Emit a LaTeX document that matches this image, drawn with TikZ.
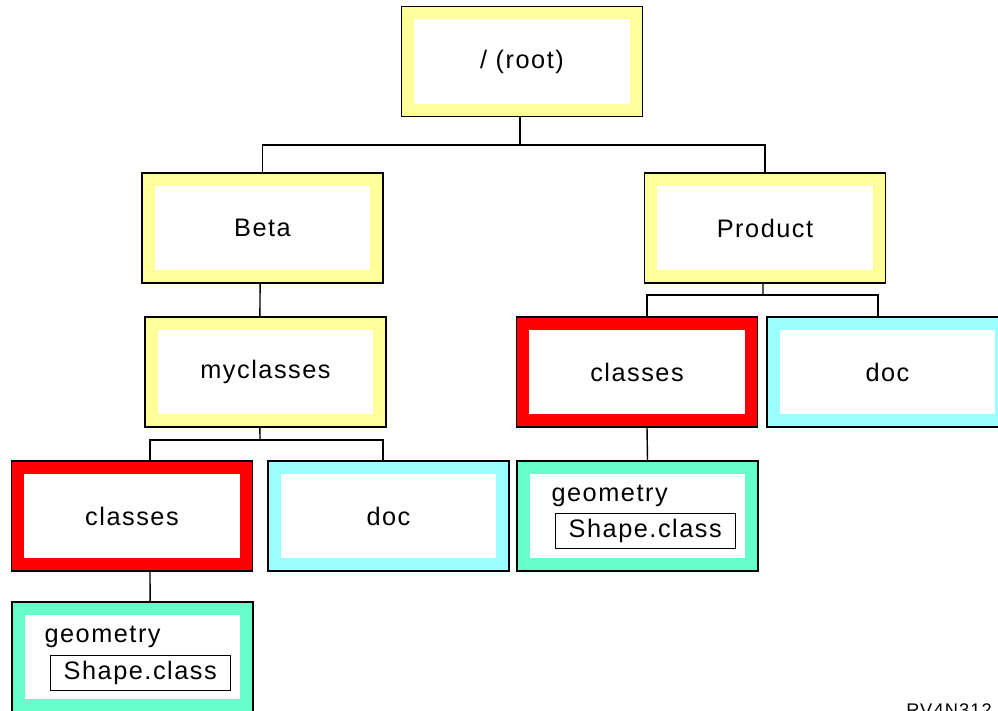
\documentclass[tikz,border=0pt]{standalone}
\usepackage{fontspec}
\setmainfont{Liberation Sans}[LetterSpace=6]
\usepackage{xcolor}
\usepackage{tikz}
\usetikzlibrary{positioning}

\definecolor{dirYellow}{HTML}{FFFF99}
\definecolor{dirRed}{HTML}{FF0000}
\definecolor{dirCyan}{HTML}{99FFFF}
\definecolor{dirMint}{HTML}{66FFCC}
\newcommand{\dirfont}{\fontsize{18}{20}\selectfont}

\begin{document}
\begin{tikzpicture}[
  x=0.025cm, y=-0.025cm,
  dirbox/.style={rectangle, draw=black, line width=1pt, fill=#1, inner sep=0pt,
                 minimum width=6.025cm, minimum height=2.75cm, font=\dirfont,
                 path picture={\fill[white]
                   ([shift={(0.32cm,-0.32cm)}]path picture bounding box.north west) rectangle
                   ([shift={(-0.32cm,0.32cm)}]path picture bounding box.south east);}},
  filebox/.style={rectangle, draw=black, line width=0.9pt, inner sep=0pt,
                  minimum width=4.5cm, minimum height=0.875cm, font=\dirfont},
  lbl/.style={font=\dirfont, inner sep=0pt},
  link/.style={line width=1pt}
]
\useasboundingbox (0,0) rectangle (998,710);

% Row y positions
\def\yA{61.5}  % root
\def\yB{228}   % Beta, Product
\def\yC{372}   % myclasses, classes, doc
\def\yD{516}   % classes, doc, geometry
\def\yE{657}   % geometry (bottom)

% Top
\node[dirbox=dirYellow] (root)  at (522,\yA)   {/ (root)};

% Second row
\node[dirbox=dirYellow] (beta)  at (262.5,\yB) {Beta};
\node[dirbox=dirYellow] (prod)  at (765,\yB)   {Product};

% Third row
\node[dirbox=dirYellow] (mycls) at (265.5,\yC) {myclasses};
\node[dirbox=dirRed]    (clsR)  at (637,\yC)   {classes};
\node[dirbox=dirCyan]   (docR)  at (887.5,\yC) {doc};

% Fourth row
\node[dirbox=dirRed]    (clsL)  at (132,\yD)   {classes};
\node[dirbox=dirCyan]   (docL)  at (388.5,\yD) {doc};
\node[dirbox=dirMint]   (geoR)  at (637.5,\yD) {};

% Bottom
\node[dirbox=dirMint]   (geoL)  at (132.5,\yE) {};

% Contents of the geometry folders
\node[lbl, anchor=base west] (geoRtxt) at ([shift={(35,41)}]geoR.north west) {geometry};
\node[filebox] (shapeR) at ([shift={(129,71)}]geoR.north west) {Shape.class};
\node[lbl, anchor=base west] (geoLtxt) at ([shift={(33,41)}]geoL.north west) {geometry};
\node[filebox] (shapeL) at ([shift={(129,71.5)}]geoL.north west) {Shape.class};

% Connectors
\coordinate (rootBus) at (520,145);
\coordinate (myBus)   at (260,440);
\coordinate (prodBus) at (763,295);
\draw[link] (root.south -| rootBus) -- (rootBus);
\draw[link] (rootBus) -| (beta.north);
\draw[link] (rootBus) -| (prod.north);
\draw[link] ([xshift=-0.06cm]beta.south) -- ([xshift=-0.14cm]mycls.north);
\draw[link] ([xshift=-0.14cm]mycls.south) -- (myBus);
\draw[link] (myBus) -| ([xshift=0.45cm]clsL.north);
\draw[link] (myBus) -| ([xshift=-0.14cm]docL.north);
\draw[link] ([xshift=-0.05cm]prod.south) -- (prodBus);
\draw[link] (prodBus) -| ([xshift=0.25cm]clsR.north);
\draw[link] (prodBus) -| ([xshift=-0.24cm]docR.north);
\draw[link] ([xshift=0.25cm]clsR.south) -- ([xshift=0.25cm]geoR.north);
\draw[link] ([xshift=0.45cm]clsL.south) -- ([xshift=0.44cm]geoL.north);

% Figure number, cut off at the lower edge
\node[font=\fontsize{13}{14}\selectfont, anchor=north west, inner sep=0pt] (figno) at (906,703) {RV4N312};
\end{tikzpicture}
\end{document}
